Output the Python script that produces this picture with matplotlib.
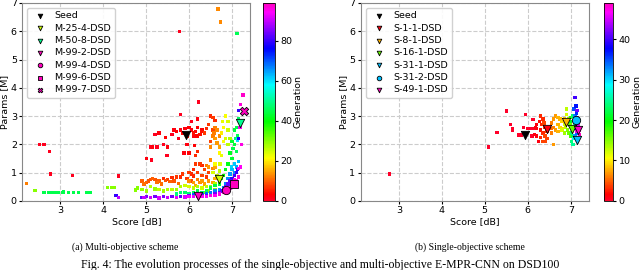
import matplotlib.pyplot as plt
import numpy as np

# ---- multi-objective run: (score dB, params M, generation) ----
m_outliers = [(2.21, 0.62, 12), (2.52, 2.0, 1), (2.62, 2.0, 1), (2.75, 1.75, 1), (2.78, 0.95, 1),
              (3.28, 0.9, 1), (4.35, 0.88, 1), (5.78, 6.0, 1), (6.67, 6.78, 13), (6.73, 6.32, 13),
              (7.1, 5.93, 46), (7.13, 5.93, 46), (2.41, 0.37, 30), (4.3, 0.18, 80), (4.35, 0.12, 90),
              (4.1, 0.47, 30), (4.2, 0.47, 30), (4.25, 0.47, 30)]
m_cyan_row = [(2.61, 0.3, 45), (2.64, 0.3, 45), (2.73, 0.3, 45), (2.76, 0.3, 45), (2.84, 0.3, 45),
              (2.92, 0.3, 45), (2.96, 0.3, 45), (3.06, 0.3, 45), (3.08, 0.33, 45), (3.19, 0.3, 45),
              (3.31, 0.3, 45), (3.43, 0.3, 45), (3.62, 0.3, 45), (3.70, 0.3, 45)]
m_red = [(5.0, 1.5, 2), (5.12, 1.45, 1), (5.1, 1.9, 1), (5.15, 1.9, 2), (5.25, 1.9, 1), (5.2, 2.35, 1),
         (5.3, 2.4, 2), (5.4, 2.0, 1), (5.45, 2.25, 3), (5.48, 1.6, 1), (5.5, 1.9, 2), (5.6, 2.35, 1),
         (5.65, 2.5, 2), (5.7, 2.45, 3), (5.75, 2.2, 1), (5.8, 2.5, 2), (5.8, 3.05, 1), (5.85, 2.4, 3),
         (5.9, 2.55, 2), (5.95, 2.3, 4), (6.0, 2.6, 3), (6.05, 2.5, 2), (6.1, 2.4, 4), (6.15, 2.45, 3),
         (6.2, 2.9, 2), (6.22, 3.5, 1), (6.25, 2.35, 4), (6.3, 2.5, 3), (6.35, 2.4, 4), (6.2, 2.6, 3),
         (6.1, 2.3, 2), (5.95, 2.0, 2), (6.0, 1.7, 3), (5.88, 1.7, 2), (6.12, 1.95, 3), (6.05, 2.8, 1),
         (6.28, 2.45, 4), (6.18, 2.3, 3)]
m_orange = [(6.5, 3.0, 6), (6.55, 2.95, 7), (6.6, 2.85, 6), (6.45, 2.7, 7), (6.4, 2.55, 6), (6.35, 2.4, 7),
            (6.55, 2.5, 8), (6.5, 2.1, 8), (6.2, 1.75, 6), (6.15, 1.6, 6), (6.25, 1.3, 7), (6.3, 1.25, 6),
            (6.15, 1.3, 7), (6.1, 1.1, 6), (6.2, 1.0, 7), (6.05, 0.95, 6), (5.95, 0.8, 7), (5.8, 0.85, 6),
            (5.7, 0.85, 7), (5.6, 0.82, 6), (5.5, 0.75, 7), (5.4, 0.8, 6), (6.35, 1.1, 8), (6.3, 0.9, 8),
            (6.4, 0.85, 7), (6.45, 1.0, 8), (6.0, 1.0, 7), (6.05, 0.7, 8), (6.1, 0.88, 6), (5.85, 0.95, 7)]
m_yellow_low = [(4.9, 0.7, 10), (4.95, 0.6, 11), (5.0, 0.65, 10), (5.05, 0.7, 9), (5.1, 0.75, 9),
                (5.15, 0.8, 10), (5.2, 0.75, 9), (5.25, 0.65, 11), (5.3, 0.7, 10), (5.35, 0.6, 11),
                (5.45, 0.72, 9), (5.55, 0.68, 10), (5.65, 0.7, 9), (5.75, 0.62, 11)]
m_yellow = [(6.6, 2.6, 12), (6.65, 2.5, 13), (6.55, 2.3, 12), (6.6, 2.2, 14), (6.7, 2.3, 13), (6.65, 2.05, 14),
            (6.5, 1.9, 13), (6.7, 1.9, 15), (6.5, 1.45, 13), (6.45, 1.2, 14), (6.55, 1.15, 13), (6.4, 1.25, 12),
            (6.3, 0.7, 14), (6.35, 0.6, 15), (6.25, 0.65, 13), (6.2, 0.75, 12), (6.1, 0.65, 14), (6.0, 0.7, 13),
            (6.15, 0.55, 15), (6.45, 0.7, 14), (6.55, 0.65, 15), (6.6, 0.8, 16), (6.6, 1.2, 15), (6.58, 2.4, 12)]
m_green = [(6.85, 3.0, 22), (6.9, 2.8, 24), (6.8, 2.6, 21), (6.75, 2.4, 20), (6.9, 2.5, 25), (6.85, 2.2, 24),
           (6.8, 2.1, 22), (6.95, 2.2, 27), (6.9, 2.0, 26), (6.75, 1.6, 23), (6.7, 1.7, 21), (6.6, 1.3, 22),
           (6.55, 1.0, 24), (6.65, 0.9, 25), (6.7, 1.05, 26), (6.6, 0.6, 27), (6.5, 0.5, 28), (6.4, 0.5, 26),
           (6.3, 0.45, 25), (6.2, 0.5, 27), (6.1, 0.45, 26), (6.0, 0.5, 24), (5.9, 0.55, 25), (5.8, 0.5, 27),
           (5.7, 0.4, 28), (5.6, 0.4, 26), (5.5, 0.4, 27), (5.4, 0.35, 28), (5.3, 0.4, 26), (5.2, 0.42, 29),
           (5.1, 0.5, 27), (5.0, 0.35, 28), (4.9, 0.4, 29), (4.8, 0.45, 30), (4.75, 0.38, 30), (6.6, 0.4, 29),
           (6.5, 0.3, 30), (6.45, 0.35, 30), (6.35, 0.3, 31), (6.78, 2.8, 23), (6.72, 1.3, 24)]
m_cyan = [(7.15, 2.9, 47), (7.1, 2.6, 45), (7.05, 2.5, 44), (7.12, 2.3, 46), (7.0, 2.1, 43), (7.05, 2.0, 44),
          (7.1, 1.75, 46), (6.95, 1.7, 42), (7.0, 1.5, 43), (6.9, 1.3, 41), (6.85, 1.1, 42), (6.8, 0.9, 40),
          (6.75, 0.8, 41), (6.7, 0.6, 43), (6.6, 0.55, 44), (6.5, 0.45, 45), (6.4, 0.35, 46), (6.3, 0.3, 47),
          (6.2, 0.35, 45), (6.1, 0.3, 46), (6.0, 0.25, 48), (5.9, 0.3, 47), (5.8, 0.3, 48), (5.7, 0.25, 49),
          (7.08, 2.2, 48), (7.02, 1.85, 45)]
m_blue = [(7.05, 1.3, 62), (7.1, 1.2, 64), (7.0, 1.1, 63), (6.95, 0.95, 65), (6.9, 0.8, 66), (6.85, 0.6, 67),
          (6.8, 0.45, 68), (6.7, 0.4, 66), (6.6, 0.35, 67), (6.5, 0.3, 68), (6.4, 0.25, 69), (6.3, 0.22, 70),
          (6.2, 0.25, 68), (6.1, 0.22, 69), (7.15, 1.4, 63), (7.05, 1.0, 66), (7.12, 2.15, 60), (6.98, 1.2, 61)]
m_purple = [(7.15, 2.2, 78), (7.1, 1.0, 80), (7.05, 0.9, 81), (7.0, 0.8, 79), (6.95, 0.7, 82), (6.9, 0.6, 83),
            (6.85, 0.5, 84), (6.75, 0.35, 82), (6.7, 0.3, 83), (6.6, 0.25, 84), (6.5, 0.2, 85), (6.4, 0.2, 83),
            (6.3, 0.18, 84), (6.2, 0.2, 85), (6.0, 0.18, 84), (5.9, 0.15, 85), (5.8, 0.16, 83), (5.6, 0.16, 84),
            (5.4, 0.15, 85), (5.2, 0.15, 84), (4.9, 0.12, 83), (5.0, 0.15, 85), (7.15, 3.2, 80), (7.12, 1.1, 79)]
m_magenta = [(7.2, 1.2, 95), (7.15, 1.15, 96), (7.1, 0.7, 94), (7.05, 0.65, 95), (7.0, 0.55, 97), (6.95, 0.45, 96),
             (6.9, 0.4, 97), (6.85, 0.35, 98), (6.8, 0.3, 97), (6.7, 0.25, 96), (6.6, 0.2, 95), (6.5, 0.18, 96),
             (6.4, 0.15, 94), (6.3, 0.15, 95), (6.2, 0.15, 96), (6.1, 0.15, 93), (6.0, 0.15, 94), (5.9, 0.14, 92),
             (5.7, 0.13, 93), (5.5, 0.12, 91), (5.3, 0.1, 92), (5.1, 0.12, 91), (4.95, 0.12, 90), (7.18, 2.6, 95),
             (7.2, 3.4, 97), (7.25, 3.75, 98), (7.22, 2.0, 96), (7.05, 0.75, 98), (7.15, 0.85, 97)]

# highlighted individuals: (label, score, params, generation, marker)
m_marked = [("Seed", 5.93, 2.33, None, "v"),
            ("M-25-4-DSD", 6.7, 0.78, 25, "v"),
            ("M-50-8-DSD", 7.18, 2.75, 50, "v"),
            ("M-99-2-DSD", 6.2, 0.18, 99, "v"),
            ("M-99-4-DSD", 6.85, 0.38, 99, "o"),
            ("M-99-6-DSD", 7.05, 0.6, 99, "s"),
            ("M-99-7-DSD", 7.27, 3.18, 99, "X")]

# ---- single-objective run ----
s_red = [(2.78, 0.95, 0), (5.08, 1.9, 0), (5.28, 2.42, 0), (5.5, 3.18, 0), (5.6, 2.7, 0), (5.65, 2.55, 0),
         (5.65, 2.48, 0), (5.8, 2.33, 0), (5.85, 2.33, 0), (5.9, 2.6, 0), (5.95, 3.05, 0), (6.0, 2.55, 0),
         (6.05, 2.55, 0), (6.1, 2.55, 0), (6.15, 2.55, 0), (6.2, 2.55, 1), (6.12, 2.88, 0), (6.15, 2.35, 1),
         (6.2, 2.3, 1), (6.25, 2.1, 1), (6.2, 2.7, 1), (6.1, 2.3, 0), (6.18, 2.6, 1)]
s_orange = [(6.3, 3.0, 3), (6.35, 2.9, 3), (6.28, 2.8, 2), (6.32, 2.7, 3), (6.3, 2.5, 2), (6.35, 2.4, 3),
            (6.4, 2.3, 4), (6.3, 2.25, 3), (6.35, 2.1, 4), (6.4, 2.1, 4), (6.45, 2.2, 4), (6.5, 2.6, 5),
            (6.55, 2.55, 5), (6.45, 2.45, 4), (6.4, 2.6, 3), (6.38, 2.75, 4)]
s_yellow = [(6.55, 2.75, 6), (6.6, 2.9, 7), (6.65, 3.0, 7), (6.7, 2.95, 8), (6.75, 2.9, 8), (6.6, 2.6, 6),
            (6.65, 2.5, 7), (6.7, 2.7, 8), (6.75, 2.6, 9), (6.8, 2.8, 9), (6.6, 2.0, 7), (6.55, 2.4, 6),
            (6.7, 2.45, 8), (6.8, 2.55, 9), (6.85, 2.9, 9)]
s_green = [(6.9, 3.25, 13), (6.9, 3.05, 12), (6.95, 2.9, 14), (6.85, 2.7, 12), (6.88, 2.6, 13), (6.92, 2.5, 15),
           (6.95, 2.4, 16), (6.85, 2.4, 14), (7.0, 2.3, 17), (6.98, 2.7, 16), (6.8, 2.5, 12), (7.0, 2.95, 18)]
s_cyan = [(7.0, 2.8, 21), (7.05, 3.0, 23), (7.02, 2.1, 24), (7.05, 2.0, 25), (7.08, 2.6, 26), (7.05, 2.3, 22),
          (7.1, 2.7, 27), (7.02, 2.4, 24), (7.08, 2.2, 28)]
s_blue = [(7.1, 3.0, 33), (7.12, 3.35, 37), (7.08, 3.25, 35), (7.1, 3.65, 40), (7.13, 3.1, 36), (7.15, 2.4, 34),
          (7.12, 2.55, 38), (7.1, 2.3, 32), (7.13, 2.7, 39)]
s_magenta = [(7.15, 2.95, 44), (7.18, 2.7, 46), (7.15, 2.45, 47), (7.2, 2.5, 48), (7.17, 2.6, 45),
             (7.13, 2.85, 43), (7.2, 2.35, 49), (7.15, 3.2, 42), (7.18, 2.8, 47)]

s_marked = [("Seed", 5.93, 2.33, None, "v"),
            ("S-1-1-DSD", 6.45, 2.55, 1, "v"),
            ("S-8-1-DSD", 6.9, 2.8, 8, "v"),
            ("S-16-1-DSD", 7.03, 2.55, 16, "v"),
            ("S-31-1-DSD", 7.15, 2.15, 31, "v"),
            ("S-31-2-DSD", 7.12, 2.85, 31, "o"),
            ("S-49-1-DSD", 7.18, 2.5, 49, "v")]

m_points = np.array(m_outliers + m_cyan_row + m_red + m_orange + m_yellow_low + m_yellow
                    + m_green + m_cyan + m_blue + m_purple + m_magenta)
s_points = np.array(s_red + s_orange + s_yellow + s_green + s_cyan + s_blue + s_magenta)

cmap = plt.get_cmap("gist_rainbow")
fs = 6.8

fig = plt.figure(figsize=(6.4, 2.7), dpi=100)


def panel(rect, cbrect, pts, marked, gmax, cticks):
    ax = fig.add_axes(rect)
    order = np.argsort(pts[:, 2])
    pts = pts[order]
    sc = ax.scatter(pts[:, 0], pts[:, 1], c=pts[:, 2], cmap=cmap, vmin=0, vmax=gmax,
                    s=6, marker="s", linewidths=0, zorder=2)
    for label, x, y, g, mk in marked:
        col = "black" if g is None else cmap(g / gmax)
        ax.scatter([x], [y], color=col, marker=mk, s=36, edgecolors="black",
                   linewidths=0.6, label=label, zorder=3)
    ax.set_xlim(2.12, 7.42)
    ax.set_ylim(0, 7)
    ax.set_xticks([3, 4, 5, 6, 7])
    ax.set_yticks(range(8))
    ax.grid(True, linestyle="--", color="#cccccc", linewidth=0.8, zorder=0)
    ax.set_axisbelow(True)
    ax.tick_params(labelsize=fs, length=2.5, pad=1.5)
    ax.set_xlabel("Score [dB]", fontsize=fs, labelpad=1)
    ax.set_ylabel("Params [M]", fontsize=fs, labelpad=1)
    for sp in ax.spines.values():
        sp.set_color("#888888")
    ax.legend(loc="upper left", fontsize=fs, markerscale=0.55, handletextpad=0.5,
              borderpad=0.4, labelspacing=0.35, framealpha=0.9, edgecolor="#cccccc")
    cax = fig.add_axes(cbrect)
    cb = fig.colorbar(sc, cax=cax, ticks=cticks)
    cb.outline.set_linewidth(0.6)
    cb.ax.tick_params(labelsize=fs, length=2.5, pad=1.5)
    cb.set_label("Generation", fontsize=fs, labelpad=1)
    return ax


panel([0.035, 0.256, 0.356, 0.733], [0.411, 0.256, 0.018, 0.733], m_points, m_marked, 99,
      [0, 20, 40, 60, 80])
panel([0.564, 0.256, 0.356, 0.733], [0.944, 0.256, 0.014, 0.733], s_points, s_marked, 49,
      [0, 10, 20, 30, 40])

serif = ["Liberation Serif", "DejaVu Serif"]
fig.text(0.196, 0.085, "(a) Multi-objective scheme", ha="center", va="center",
         fontsize=7, family=serif)
fig.text(0.735, 0.085, "(b) Single-objective scheme", ha="center", va="center",
         fontsize=7, family=serif)
fig.text(0.5, -0.005, "Fig. 4: The evolution processes of the single-objective and multi-objective "
         "E-MPR-CNN on DSD100", ha="center", va="bottom", fontsize=8.5, family=serif)

fig.savefig("out.png", dpi=100)
